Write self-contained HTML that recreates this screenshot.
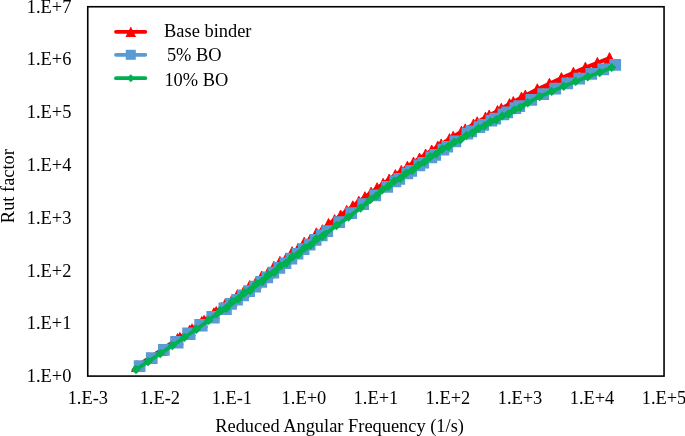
<!DOCTYPE html>
<html><head><meta charset="utf-8"><title>Rut factor chart</title>
<style>html,body{margin:0;padding:0;background:#fff}</style></head>
<body>
<svg width="685" height="436" viewBox="0 0 685 436" style="display:block;font-family:'Liberation Serif',serif;font-size:18.4px">
<rect width="685" height="436" fill="#fff"/>
<polyline points="136.9,366.1 149.0,358.2 161.1,350.1 173.2,342.0 177.6,339.0 185.3,333.6 189.7,330.6 197.4,325.1 201.8,322.0 209.5,316.4 213.9,313.2 221.6,307.6 225.3,304.1 231.4,301.2 237.4,295.1 243.5,292.2 249.6,286.0 255.7,282.8 261.7,276.4 267.8,273.2 273.9,266.8 279.9,261.9 286.0,258.6 292.1,252.1 298.1,248.9 304.2,242.6 310.3,239.5 316.4,233.2 322.4,230.2 328.5,223.9 334.6,220.0 340.6,215.4 346.7,210.8 352.8,206.2 358.8,201.7 364.9,197.1 371.0,192.6 377.1,188.2 383.1,183.8 389.2,179.4 395.3,175.1 401.3,170.8 407.4,166.6 413.5,162.5 419.5,158.4 425.6,154.4 431.7,150.5 437.8,146.6 441.2,144.4 449.5,139.0 453.2,136.7 461.5,131.6 465.2,129.3 473.5,124.4 477.2,122.2 485.5,117.5 489.2,115.4 497.5,110.9 501.3,108.7 509.5,104.1 513.3,102.0 521.5,97.5 525.3,95.5 537.3,89.3 549.4,83.8 561.4,78.0 573.4,72.8 585.4,67.7 597.4,62.9 609.5,58.1" fill="none" stroke="#ff0000" stroke-width="4" stroke-linejoin="round" stroke-linecap="round"/>
<path fill="#ff0000" stroke="#ff0000" stroke-width="0.9" stroke-linejoin="round" d="M136.9,360.7l5.5,10.9h-10.9zM149.0,352.7l5.5,10.9h-10.9zM161.1,344.7l5.5,10.9h-10.9zM173.2,336.5l5.5,10.9h-10.9zM177.6,333.5l5.5,10.9h-10.9zM185.3,328.2l5.5,10.9h-10.9zM189.7,325.1l5.5,10.9h-10.9zM197.4,319.7l5.5,10.9h-10.9zM201.8,316.5l5.5,10.9h-10.9zM209.5,311.0l5.5,10.9h-10.9zM213.9,307.8l5.5,10.9h-10.9zM221.6,302.2l5.5,10.9h-10.9zM225.3,298.7l5.5,10.9h-10.9zM231.4,295.8l5.5,10.9h-10.9zM237.4,289.7l5.5,10.9h-10.9zM243.5,286.7l5.5,10.9h-10.9zM249.6,280.5l5.5,10.9h-10.9zM255.7,277.4l5.5,10.9h-10.9zM261.7,271.0l5.5,10.9h-10.9zM267.8,267.7l5.5,10.9h-10.9zM273.9,261.3l5.5,10.9h-10.9zM279.9,256.4l5.5,10.9h-10.9zM286.0,253.2l5.5,10.9h-10.9zM292.1,246.7l5.5,10.9h-10.9zM298.1,243.4l5.5,10.9h-10.9zM304.2,237.2l5.5,10.9h-10.9zM310.3,234.1l5.5,10.9h-10.9zM316.4,227.8l5.5,10.9h-10.9zM322.4,224.7l5.5,10.9h-10.9zM328.5,218.5l5.5,10.9h-10.9zM334.6,214.6l5.5,10.9h-10.9zM340.6,210.0l5.5,10.9h-10.9zM346.7,205.4l5.5,10.9h-10.9zM352.8,200.8l5.5,10.9h-10.9zM358.8,196.2l5.5,10.9h-10.9zM364.9,191.7l5.5,10.9h-10.9zM371.0,187.2l5.5,10.9h-10.9zM377.1,182.7l5.5,10.9h-10.9zM383.1,178.3l5.5,10.9h-10.9zM389.2,174.0l5.5,10.9h-10.9zM395.3,169.6l5.5,10.9h-10.9zM401.3,165.4l5.5,10.9h-10.9zM407.4,161.2l5.5,10.9h-10.9zM413.5,157.1l5.5,10.9h-10.9zM419.5,153.0l5.5,10.9h-10.9zM425.6,149.0l5.5,10.9h-10.9zM431.7,145.0l5.5,10.9h-10.9zM437.8,141.1l5.5,10.9h-10.9zM441.2,138.9l5.5,10.9h-10.9zM449.5,133.6l5.5,10.9h-10.9zM453.2,131.3l5.5,10.9h-10.9zM461.5,126.1l5.5,10.9h-10.9zM465.2,123.9l5.5,10.9h-10.9zM473.5,119.0l5.5,10.9h-10.9zM477.2,116.8l5.5,10.9h-10.9zM485.5,112.1l5.5,10.9h-10.9zM489.2,110.0l5.5,10.9h-10.9zM497.5,105.5l5.5,10.9h-10.9zM501.3,103.3l5.5,10.9h-10.9zM509.5,98.6l5.5,10.9h-10.9zM513.3,96.5l5.5,10.9h-10.9zM521.5,92.1l5.5,10.9h-10.9zM525.3,90.1l5.5,10.9h-10.9zM537.3,83.8l5.5,10.9h-10.9zM549.4,78.3l5.5,10.9h-10.9zM561.4,72.6l5.5,10.9h-10.9zM573.4,67.3l5.5,10.9h-10.9zM585.4,62.2l5.5,10.9h-10.9zM597.4,57.4l5.5,10.9h-10.9zM609.5,52.6l5.5,10.9h-10.9z"/>
<path fill="#ff0000" d="M179.9,331.5l3.2,6.4h-6.4zM192.0,323.0l3.2,6.4h-6.4zM204.1,314.4l3.2,6.4h-6.4zM216.2,305.7l3.2,6.4h-6.4z"/>
<polyline points="139.7,366.1 151.8,358.0 163.9,349.9 176.0,341.7 177.6,342.5 188.1,333.4 189.7,334.2 200.2,324.9 201.8,325.8 212.3,316.8 213.9,317.6 224.4,308.5 226.0,309.3 231.0,303.9 237.1,299.7 243.1,295.5 249.2,291.2 255.2,286.6 261.2,282.0 267.3,277.3 273.4,272.6 279.4,267.9 285.4,263.2 291.5,258.5 297.6,253.8 303.6,249.1 309.6,244.5 315.7,239.9 321.8,235.4 327.3,231.2 339.3,222.1 351.3,213.1 363.3,204.1 375.3,195.4 387.3,187.0 395.4,181.4 399.3,178.8 407.4,173.5 411.3,170.9 419.4,165.4 423.3,162.8 431.4,157.4 435.3,154.9 443.4,149.7 447.3,146.8 455.4,141.4 467.4,133.6 471.3,131.4 479.4,127.0 483.3,124.9 491.4,120.7 495.3,118.7 503.4,114.4 507.3,112.3 515.4,108.1 519.3,106.1 531.3,100.0 543.3,94.1 555.3,88.6 567.3,83.4 579.3,78.6 591.3,73.9 603.3,69.4 615.3,64.9" fill="none" stroke="#5b9bd5" stroke-width="4" stroke-linejoin="round" stroke-linecap="round"/>
<path fill="#5b9bd5" d="M133.8,360.2h11.7v11.7h-11.7zM145.9,352.2h11.7v11.7h-11.7zM158.0,344.1h11.7v11.7h-11.7zM170.2,335.9h11.7v11.7h-11.7zM171.8,336.7h11.7v11.7h-11.7zM182.2,327.5h11.7v11.7h-11.7zM183.8,328.3h11.7v11.7h-11.7zM194.3,319.1h11.7v11.7h-11.7zM195.9,319.9h11.7v11.7h-11.7zM206.4,310.9h11.7v11.7h-11.7zM208.0,311.7h11.7v11.7h-11.7zM218.5,302.6h11.7v11.7h-11.7zM220.1,303.4h11.7v11.7h-11.7zM225.2,298.1h11.7v11.7h-11.7zM231.2,293.9h11.7v11.7h-11.7zM237.2,289.6h11.7v11.7h-11.7zM243.3,285.3h11.7v11.7h-11.7zM249.3,280.8h11.7v11.7h-11.7zM255.4,276.1h11.7v11.7h-11.7zM261.4,271.5h11.7v11.7h-11.7zM267.5,266.8h11.7v11.7h-11.7zM273.5,262.1h11.7v11.7h-11.7zM279.6,257.4h11.7v11.7h-11.7zM285.6,252.7h11.7v11.7h-11.7zM291.7,247.9h11.7v11.7h-11.7zM297.8,243.3h11.7v11.7h-11.7zM303.8,238.7h11.7v11.7h-11.7zM309.8,234.1h11.7v11.7h-11.7zM315.9,229.5h11.7v11.7h-11.7zM321.4,225.3h11.7v11.7h-11.7zM333.4,216.3h11.7v11.7h-11.7zM345.4,207.2h11.7v11.7h-11.7zM357.4,198.2h11.7v11.7h-11.7zM369.4,189.6h11.7v11.7h-11.7zM381.4,181.1h11.7v11.7h-11.7zM389.5,175.6h11.7v11.7h-11.7zM393.4,173.0h11.7v11.7h-11.7zM401.5,167.6h11.7v11.7h-11.7zM405.4,165.1h11.7v11.7h-11.7zM413.5,159.6h11.7v11.7h-11.7zM417.4,156.9h11.7v11.7h-11.7zM425.5,151.6h11.7v11.7h-11.7zM429.4,149.0h11.7v11.7h-11.7zM437.5,143.8h11.7v11.7h-11.7zM441.4,140.9h11.7v11.7h-11.7zM449.5,135.5h11.7v11.7h-11.7zM461.5,127.8h11.7v11.7h-11.7zM465.4,125.6h11.7v11.7h-11.7zM473.5,121.2h11.7v11.7h-11.7zM477.4,119.1h11.7v11.7h-11.7zM485.5,114.8h11.7v11.7h-11.7zM489.4,112.8h11.7v11.7h-11.7zM497.5,108.5h11.7v11.7h-11.7zM501.4,106.5h11.7v11.7h-11.7zM509.5,102.2h11.7v11.7h-11.7zM513.4,100.2h11.7v11.7h-11.7zM525.4,94.1h11.7v11.7h-11.7zM537.4,88.3h11.7v11.7h-11.7zM549.4,82.7h11.7v11.7h-11.7zM561.4,77.5h11.7v11.7h-11.7zM573.4,72.7h11.7v11.7h-11.7zM585.4,68.0h11.7v11.7h-11.7zM597.4,63.5h11.7v11.7h-11.7zM609.4,59.1h11.7v11.7h-11.7z"/>
<polyline points="136.0,369.5 148.1,361.6 160.2,353.6 172.3,345.6 184.4,337.4 196.5,329.2 208.6,320.4 220.3,310.7 226.3,308.2 232.3,301.6 238.3,299.1 244.3,292.6 250.3,290.2 256.3,283.8 262.3,281.5 268.3,274.9 274.3,272.4 280.3,265.8 286.3,263.3 292.3,256.8 298.3,254.4 304.3,247.9 310.3,245.4 316.3,239.0 322.3,236.6 336.5,225.5 348.5,217.1 360.5,208.0 370.3,199.5 376.3,195.9 382.3,189.8 388.3,186.4 394.3,181.1 400.3,178.3 406.3,173.1 412.3,170.4 418.3,165.1 424.3,162.1 430.3,156.8 436.3,153.9 442.3,149.0 448.3,146.5 454.3,142.1 460.3,139.9 466.3,135.5 472.3,132.9 478.3,128.4 484.3,125.9 490.3,121.7 496.3,119.8 502.3,115.9 508.3,114.0 514.3,109.9 520.3,107.4 527.7,102.8 539.7,96.6 551.7,91.4 563.7,86.2 575.7,81.4 587.7,76.7 599.7,72.5 611.7,67.4" fill="none" stroke="#00b050" stroke-width="3.8" stroke-linejoin="round" stroke-linecap="round"/>
<polyline points="216.0,313.9 218.0,312.4 220.0,310.9 222.0,309.4 224.0,307.9 226.0,306.4 228.0,304.9 230.0,303.4 232.0,301.9 234.0,300.4 236.0,298.8 238.0,297.3 240.0,295.8 242.0,294.3 244.0,292.9 246.0,291.4 248.0,289.9 250.0,288.4 252.0,286.9 254.0,285.5 256.0,284.0 258.0,282.6 260.0,281.1 262.0,279.7 264.0,278.2 266.0,276.7 268.0,275.2 270.0,273.7 272.0,272.1 274.0,270.6 276.0,269.1 278.0,267.6 280.0,266.0 282.0,264.5 284.0,263.0 286.0,261.5 288.0,260.1 290.0,258.6 292.0,257.1 294.0,255.6 296.0,254.1 298.0,252.6 300.0,251.1 302.0,249.6 304.0,248.1 306.0,246.6 308.0,245.2 310.0,243.7 312.0,242.2 314.0,240.7 316.0,239.2 318.0,237.7 320.0,236.3 322.0,234.8 324.0,233.3 326.0,231.9" fill="none" stroke="#00b050" stroke-width="3.8" stroke-linejoin="round" stroke-linecap="round"/>
<polyline points="216.0,315.9 218.0,314.4 220.0,312.9 222.0,311.4 224.0,309.9 226.0,308.4 228.0,306.9 230.0,305.4 232.0,303.9 234.0,302.4 236.0,300.8 238.0,299.3 240.0,297.8 242.0,296.3 244.0,294.9 246.0,293.4 248.0,291.9 250.0,290.4 252.0,288.9 254.0,287.5 256.0,286.0 258.0,284.6 260.0,283.1 262.0,281.7 264.0,280.2 266.0,278.7 268.0,277.2 270.0,275.7 272.0,274.1 274.0,272.6 276.0,271.1 278.0,269.6 280.0,268.0 282.0,266.5 284.0,265.0 286.0,263.5 288.0,262.1 290.0,260.6 292.0,259.1 294.0,257.6 296.0,256.1 298.0,254.6 300.0,253.1 302.0,251.6 304.0,250.1 306.0,248.6 308.0,247.2 310.0,245.7 312.0,244.2 314.0,242.7 316.0,241.2 318.0,239.7 320.0,238.3 322.0,236.8 324.0,235.3 326.0,233.9" fill="none" stroke="#00b050" stroke-width="3.8" stroke-linejoin="round" stroke-linecap="round"/>
<polyline points="366.0,203.0 368.0,201.4 370.0,199.8 372.0,198.1 374.0,196.5 376.0,194.9 378.0,193.3 380.0,191.7 382.0,190.1 384.0,188.5 386.0,186.9 388.0,185.4 390.0,184.0 392.0,182.7 394.0,181.3 396.0,179.9 398.0,178.6 400.0,177.3 402.0,175.9 404.0,174.6 406.0,173.3 408.0,172.0 410.0,170.7 412.0,169.4 414.0,168.1 416.0,166.7 418.0,165.3 420.0,163.9 422.0,162.5 424.0,161.1 426.0,159.7 428.0,158.3 430.0,157.0 432.0,155.6 434.0,154.3 436.0,152.9 438.0,151.6 440.0,150.4 442.0,149.2 444.0,147.9 446.0,146.7 448.0,145.5 450.0,144.3" fill="none" stroke="#00b050" stroke-width="3.8" stroke-linejoin="round" stroke-linecap="round"/>
<polyline points="366.0,204.2 368.0,202.6 370.0,201.0 372.0,199.3 374.0,197.7 376.0,196.1 378.0,194.5 380.0,192.9 382.0,191.3 384.0,189.7 386.0,188.1 388.0,186.6 390.0,185.2 392.0,183.9 394.0,182.5 396.0,181.1 398.0,179.8 400.0,178.5 402.0,177.1 404.0,175.8 406.0,174.5 408.0,173.2 410.0,171.9 412.0,170.6 414.0,169.3 416.0,167.9 418.0,166.5 420.0,165.1 422.0,163.7 424.0,162.3 426.0,160.9 428.0,159.5 430.0,158.2 432.0,156.8 434.0,155.5 436.0,154.1 438.0,152.8 440.0,151.6 442.0,150.4 444.0,149.1 446.0,147.9 448.0,146.7 450.0,145.5" fill="none" stroke="#00b050" stroke-width="3.8" stroke-linejoin="round" stroke-linecap="round"/>
<polyline points="451.0,143.9 453.0,142.8 455.0,141.7 457.0,140.6 459.0,139.6 461.0,138.5 463.0,137.5 465.0,136.3 467.0,135.1 469.0,133.9 471.0,132.7 473.0,131.5 475.0,130.4 477.0,129.2 479.0,128.0 481.0,126.8 483.0,125.6 485.0,124.5 487.0,123.3 489.0,122.3 491.0,121.4 493.0,120.4 495.0,119.4 497.0,118.5 499.0,117.5 501.0,116.5 503.0,115.6 505.0,114.6 507.0,113.6 509.0,112.6 511.0,111.7 513.0,110.7 515.0,109.5 517.0,108.4 519.0,107.2 521.0,106.0 523.0,104.9 525.0,103.8" fill="none" stroke="#00b050" stroke-width="3.8" stroke-linejoin="round" stroke-linecap="round"/>
<polyline points="451.0,144.9 453.0,143.8 455.0,142.7 457.0,141.6 459.0,140.6 461.0,139.5 463.0,138.5 465.0,137.3 467.0,136.1 469.0,134.9 471.0,133.7 473.0,132.5 475.0,131.4 477.0,130.2 479.0,129.0 481.0,127.8 483.0,126.6 485.0,125.5 487.0,124.3 489.0,123.3 491.0,122.4 493.0,121.4 495.0,120.4 497.0,119.5 499.0,118.5 501.0,117.5 503.0,116.6 505.0,115.6 507.0,114.6 509.0,113.6 511.0,112.7 513.0,111.7 515.0,110.5 517.0,109.4 519.0,108.2 521.0,107.0 523.0,105.9 525.0,104.8" fill="none" stroke="#00b050" stroke-width="3.8" stroke-linejoin="round" stroke-linecap="round"/>
<path fill="#00b050" d="M136.0,364.8l4.7,4.7l-4.7,4.7l-4.7,-4.7zM148.1,356.9l4.7,4.7l-4.7,4.7l-4.7,-4.7zM160.2,348.9l4.7,4.7l-4.7,4.7l-4.7,-4.7zM172.3,340.9l4.7,4.7l-4.7,4.7l-4.7,-4.7zM184.4,332.7l4.7,4.7l-4.7,4.7l-4.7,-4.7zM196.5,324.5l4.7,4.7l-4.7,4.7l-4.7,-4.7zM208.6,315.7l4.7,4.7l-4.7,4.7l-4.7,-4.7zM220.3,306.0l4.7,4.7l-4.7,4.7l-4.7,-4.7zM226.3,303.5l4.7,4.7l-4.7,4.7l-4.7,-4.7zM232.3,296.9l4.7,4.7l-4.7,4.7l-4.7,-4.7zM238.3,294.4l4.7,4.7l-4.7,4.7l-4.7,-4.7zM244.3,287.9l4.7,4.7l-4.7,4.7l-4.7,-4.7zM250.3,285.5l4.7,4.7l-4.7,4.7l-4.7,-4.7zM256.3,279.1l4.7,4.7l-4.7,4.7l-4.7,-4.7zM262.3,276.8l4.7,4.7l-4.7,4.7l-4.7,-4.7zM268.3,270.2l4.7,4.7l-4.7,4.7l-4.7,-4.7zM274.3,267.7l4.7,4.7l-4.7,4.7l-4.7,-4.7zM280.3,261.1l4.7,4.7l-4.7,4.7l-4.7,-4.7zM286.3,258.6l4.7,4.7l-4.7,4.7l-4.7,-4.7zM292.3,252.1l4.7,4.7l-4.7,4.7l-4.7,-4.7zM298.3,249.7l4.7,4.7l-4.7,4.7l-4.7,-4.7zM304.3,243.2l4.7,4.7l-4.7,4.7l-4.7,-4.7zM310.3,240.7l4.7,4.7l-4.7,4.7l-4.7,-4.7zM316.3,234.3l4.7,4.7l-4.7,4.7l-4.7,-4.7zM322.3,231.9l4.7,4.7l-4.7,4.7l-4.7,-4.7zM336.5,220.8l4.7,4.7l-4.7,4.7l-4.7,-4.7zM348.5,212.4l4.7,4.7l-4.7,4.7l-4.7,-4.7zM360.5,203.3l4.7,4.7l-4.7,4.7l-4.7,-4.7zM370.3,194.8l4.7,4.7l-4.7,4.7l-4.7,-4.7zM376.3,191.2l4.7,4.7l-4.7,4.7l-4.7,-4.7zM382.3,185.1l4.7,4.7l-4.7,4.7l-4.7,-4.7zM388.3,181.7l4.7,4.7l-4.7,4.7l-4.7,-4.7zM394.3,176.4l4.7,4.7l-4.7,4.7l-4.7,-4.7zM400.3,173.6l4.7,4.7l-4.7,4.7l-4.7,-4.7zM406.3,168.4l4.7,4.7l-4.7,4.7l-4.7,-4.7zM412.3,165.7l4.7,4.7l-4.7,4.7l-4.7,-4.7zM418.3,160.4l4.7,4.7l-4.7,4.7l-4.7,-4.7zM424.3,157.4l4.7,4.7l-4.7,4.7l-4.7,-4.7zM430.3,152.1l4.7,4.7l-4.7,4.7l-4.7,-4.7zM436.3,149.2l4.7,4.7l-4.7,4.7l-4.7,-4.7zM442.3,144.3l4.7,4.7l-4.7,4.7l-4.7,-4.7zM448.3,141.8l4.7,4.7l-4.7,4.7l-4.7,-4.7zM454.3,137.4l4.7,4.7l-4.7,4.7l-4.7,-4.7zM460.3,135.2l4.7,4.7l-4.7,4.7l-4.7,-4.7zM466.3,130.8l4.7,4.7l-4.7,4.7l-4.7,-4.7zM472.3,128.2l4.7,4.7l-4.7,4.7l-4.7,-4.7zM478.3,123.7l4.7,4.7l-4.7,4.7l-4.7,-4.7zM484.3,121.2l4.7,4.7l-4.7,4.7l-4.7,-4.7zM490.3,117.0l4.7,4.7l-4.7,4.7l-4.7,-4.7zM496.3,115.1l4.7,4.7l-4.7,4.7l-4.7,-4.7zM502.3,111.2l4.7,4.7l-4.7,4.7l-4.7,-4.7zM508.3,109.3l4.7,4.7l-4.7,4.7l-4.7,-4.7zM514.3,105.2l4.7,4.7l-4.7,4.7l-4.7,-4.7zM520.3,102.7l4.7,4.7l-4.7,4.7l-4.7,-4.7zM527.7,98.1l4.7,4.7l-4.7,4.7l-4.7,-4.7zM539.7,91.9l4.7,4.7l-4.7,4.7l-4.7,-4.7zM551.7,86.7l4.7,4.7l-4.7,4.7l-4.7,-4.7zM563.7,81.5l4.7,4.7l-4.7,4.7l-4.7,-4.7zM575.7,76.7l4.7,4.7l-4.7,4.7l-4.7,-4.7zM587.7,72.0l4.7,4.7l-4.7,4.7l-4.7,-4.7zM599.7,67.8l4.7,4.7l-4.7,4.7l-4.7,-4.7zM611.7,62.7l4.7,4.7l-4.7,4.7l-4.7,-4.7z"/>
<rect x="87.75" y="6.75" width="576.30" height="369.35" fill="none" stroke="#000" stroke-width="1.6"/>
<text transform="translate(71.4,382.0)" text-anchor="end">1.E+0</text>
<text transform="translate(71.4,329.2)" text-anchor="end">1.E+1</text>
<text transform="translate(71.4,276.5)" text-anchor="end">1.E+2</text>
<text transform="translate(71.4,223.7)" text-anchor="end">1.E+3</text>
<text transform="translate(71.4,170.9)" text-anchor="end">1.E+4</text>
<text transform="translate(71.4,118.2)" text-anchor="end">1.E+5</text>
<text transform="translate(71.4,65.4)" text-anchor="end">1.E+6</text>
<text transform="translate(71.4,12.7)" text-anchor="end">1.E+7</text>
<text transform="translate(87.8,404.2)" text-anchor="middle">1.E-3</text>
<text transform="translate(159.8,404.2)" text-anchor="middle">1.E-2</text>
<text transform="translate(231.8,404.2)" text-anchor="middle">1.E-1</text>
<text transform="translate(303.9,404.2)" text-anchor="middle">1.E+0</text>
<text transform="translate(375.9,404.2)" text-anchor="middle">1.E+1</text>
<text transform="translate(447.9,404.2)" text-anchor="middle">1.E+2</text>
<text transform="translate(520.0,404.2)" text-anchor="middle">1.E+3</text>
<text transform="translate(592.0,404.2)" text-anchor="middle">1.E+4</text>
<text transform="translate(664.0,404.2)" text-anchor="middle">1.E+5</text>
<text transform="translate(339.6,431.6)" text-anchor="middle">Reduced Angular Frequency (1/s)</text>
<text transform="translate(14.1,186.1) rotate(-90)" text-anchor="middle">Rut factor</text>
<line x1="116" y1="31.8" x2="145.3" y2="31.8" stroke="#ff0000" stroke-width="3.8" stroke-linecap="round"/>
<path d="M130.8,26.5 L136.1,37.1 L125.5,37.1 Z" fill="#ff0000"/>
<line x1="116" y1="54.8" x2="145.3" y2="54.8" stroke="#5b9bd5" stroke-width="3.8" stroke-linecap="round"/>
<rect x="125.8" y="49.8" width="10.0" height="10.0" fill="#5b9bd5"/>
<line x1="116" y1="78.2" x2="145.3" y2="78.2" stroke="#00b050" stroke-width="3.8" stroke-linecap="round"/>
<path d="M130.8,74.2 L134.8,78.2 L130.8,82.2 L126.8,78.2 Z" fill="#00b050"/>
<text transform="translate(164.1,36.7)" text-anchor="start">Base binder</text>
<text transform="translate(166.9,61.2)" text-anchor="start">5% BO</text>
<text transform="translate(164.4,85.6)" text-anchor="start">10% BO</text>
</svg>
</body></html>
